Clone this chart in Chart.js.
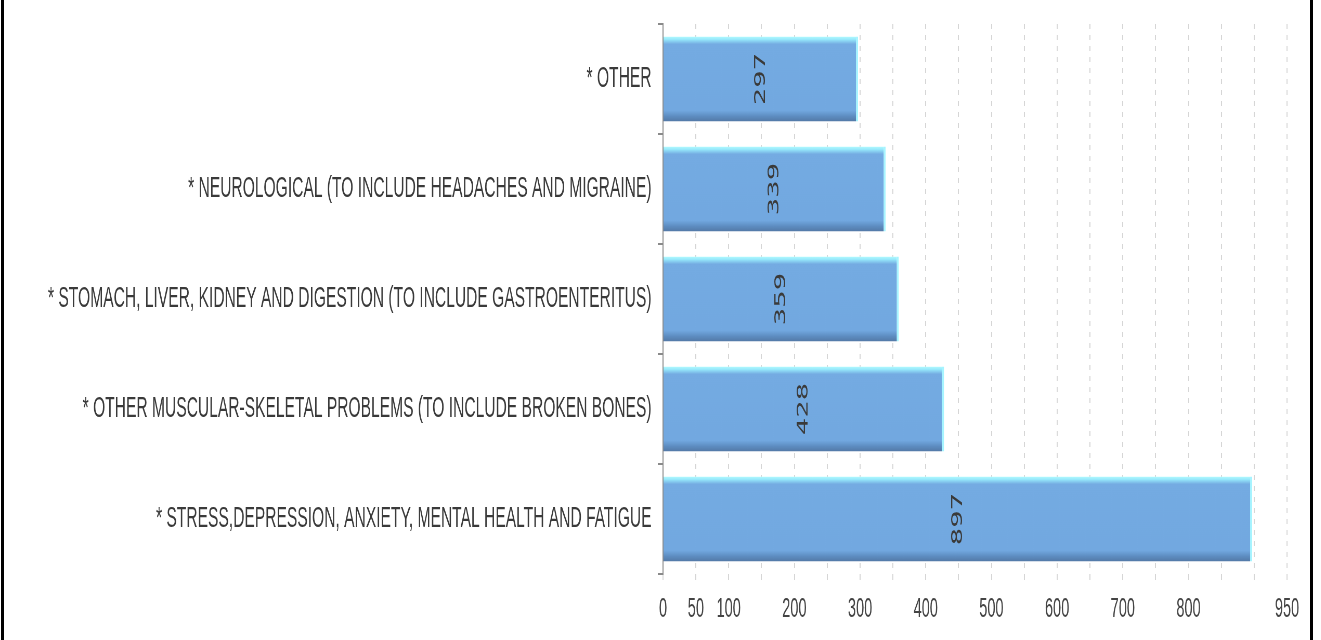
<!DOCTYPE html>
<html>
<head>
<meta charset="utf-8">
<script src="https://cdn.jsdelivr.net/npm/chart.js@4.4.1/dist/chart.umd.min.js"></script>
<style>
    html, body { margin: 0; padding: 0; background: #fff; overflow: hidden; }
    #wrap { position: relative; width: 1321px; height: 640px; overflow: hidden; }
    /* the chart is laid out wide and squeezed sideways, like the old export */
    #chart1 { position: absolute; left: 0; top: 0; transform: scaleX(0.52); transform-origin: 0 0; }
    #frame { position: absolute; left: 1px; top: 0; width: 1312px; height: 640px;
             border-left: 3px solid #000; border-right: 3px solid #000; box-sizing: border-box; }
</style>
</head>
<body>
<div id="wrap">
    <canvas id="chart1" width="2540" height="640" style="width:2540px;height:640px"></canvas>
    <div id="frame"></div>
</div>
<script>
// ------------------------------- DATA

var categories = [
    '* OTHER',
    '* NEUROLOGICAL (TO INCLUDE HEADACHES AND MIGRAINE)',
    '* STOMACH, LIVER, KIDNEY AND DIGESTION (TO INCLUDE GASTROENTERITUS)',
    '* OTHER MUSCULAR-SKELETAL PROBLEMS (TO INCLUDE BROKEN BONES)',
    '* STRESS,DEPRESSION, ANXIETY, MENTAL HEALTH AND FATIGUE'
]
var counts = [297, 339, 359, 428, 897]
var xTickLabels = [0, 50, 100, 200, 300, 400, 500, 600, 700, 800, 950]

var barPct = 0.773

// ------------------------------- HELPERS

// vertical shine on each bar: cyan top edge, darker bottom edge
function barGradient(c){
    let chart = c.chart
    let y = chart.scales.y
    if(!y || y.top == undefined) return '#72a8e0'
    let center = y.getPixelForValue(c.dataIndex)
    let half = (y.bottom - y.top) / categories.length * barPct / 2
    let g = chart.ctx.createLinearGradient(0, center - half, 0, center + half)
    g.addColorStop(0, '#b2fbff')
    g.addColorStop(0.035, '#96e8fb')
    g.addColorStop(0.09, '#74abe2')
    g.addColorStop(0.87, '#72a8e0')
    g.addColorStop(0.94, '#5d8cc0')
    g.addColorStop(1, '#5379a6')
    return g
}

// value written sideways in the middle of each bar
var barValues = {
    id: 'barValues',
    afterDatasetsDraw(chart){
        let ctx = chart.ctx
        let meta = chart.getDatasetMeta(0)
        ctx.save()
        ctx.font = '29px "DejaVu Sans Mono", monospace'
        ctx.fillStyle = '#3a3a3a'
        ctx.textAlign = 'center'
        ctx.textBaseline = 'middle'
        meta.data.forEach((bar, i) => {
            ctx.save()
            ctx.translate((bar.x + bar.base) / 2, bar.y)
            ctx.rotate(-Math.PI / 2)
            ctx.fillText(String(counts[i]), 0, 0)
            ctx.restore()
        })
        ctx.restore()
    }
}

// ------------------------------- CHART

var chart = document.getElementById('chart1')
var bars = new Chart(chart, {
    type: 'bar',
    data: {
        labels: categories,
        datasets: [{
            data: counts,
            backgroundColor: barGradient,
            borderColor: '#a6f4ff',
            borderWidth: {top: 0, right: 4, bottom: 0, left: 0},
            borderSkipped: false,
            categoryPercentage: barPct,
            barPercentage: 1
        }]
    },
    options: {
        indexAxis: 'y',
        responsive: false,
        devicePixelRatio: 1,
        animation: false,
        layout: { padding: { top: 24, right: 65, left: 0, bottom: 0 } },
        plugins: {
            legend: { display: false },
            tooltip: { enabled: false }
        },
        scales: {
            x: {
                min: 0,
                max: 950,
                afterFit: (s) => { s.height = 66 },
                ticks: {
                    stepSize: 50,
                    autoSkip: false,
                    maxRotation: 0,
                    padding: 12,
                    color: '#444',
                    font: { family: '"Liberation Sans", Arial, sans-serif', size: 28 },
                    callback: (v) => xTickLabels.includes(v) ? String(v) : ''
                },
                grid: { color: '#d6d6d6', lineWidth: 2, tickLength: 6 },
                border: { display: false, dash: [5, 6] }
            },
            y: {
                afterFit: (s) => {
                    s.width = 1275
                    s.paddingTop = 0
                    s.paddingBottom = 0
                },
                ticks: {
                    padding: 12,
                    color: '#3a3a3a',
                    font: { family: '"Liberation Sans", Arial, sans-serif', size: 30 }
                },
                grid: { drawOnChartArea: false, offset: true, tickLength: 10, color: '#8a8a8a', lineWidth: 2 },
                border: { color: '#8a8a8a', width: 2 }
            }
        }
    },
    plugins: [barValues]
})
</script>
</body>
</html>
